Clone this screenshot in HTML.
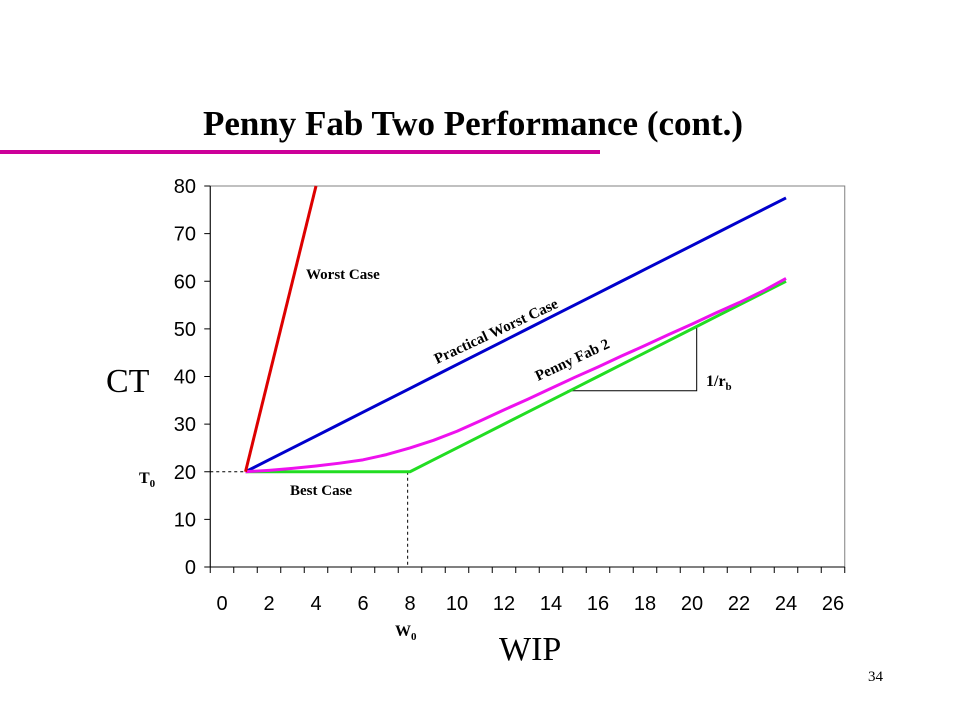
<!DOCTYPE html>
<html><head><meta charset="utf-8"><style>
body{margin:0;background:#fff;}
svg{display:block;}
</style></head><body>
<svg width="960" height="720" viewBox="0 0 960 720" xmlns="http://www.w3.org/2000/svg">
<text x="473" y="135" text-anchor="middle" font-family="Liberation Serif, serif" font-weight="bold" font-size="35">Penny Fab Two Performance (cont.)</text>
<rect x="0" y="150" width="600" height="4" fill="#cc0099"/>
<g id="chart"></g>
<text x="868" y="681" font-family="Liberation Serif, serif" font-size="15">34</text>
</svg>
<script>
const wip = [1,2,3,4,5,6,7,8,9,10,11,12,13,14,15,16,17,18,19,20,21,22,23,24];
const bestCase = [20,20,20,20,20,20,20,20,22.5,25,27.5,30,32.5,35,37.5,40,42.5,45,47.5,50,52.5,55,57.5,60];
const worstWip = [1,4];
const worstCase = [20,80];
const practicalWorst = [20,22.5,25,27.5,30,32.5,35,37.5,40,42.5,45,47.5,50,52.5,55,57.5,60,62.5,65,67.5,70,72.5,75,77.5];
const pennyFab2 = [20,20.3,20.7,21.2,21.8,22.5,23.6,25,26.6,28.5,30.7,33,35.2,37.5,39.8,42,44.3,46.5,48.8,51,53.3,55.5,57.9,60.6];
const xTicks = [0,2,4,6,8,10,12,14,16,18,20,22,24,26];
const yTicks = [0,10,20,30,40,50,60,70,80];
const T0 = 20, W0 = 8;

const NS="http://www.w3.org/2000/svg";
const g=document.getElementById('chart');
const X=v=>222+23.5*v;
const Y=v=>567-4.7625*v;
function mk(tag,attrs){const e=document.createElementNS(NS,tag);for(const k in attrs)e.setAttribute(k,attrs[k]);g.appendChild(e);return e;}

let e=mk('rect',{x:X(-0.5),y:Y(80),width:X(26.5)-X(-0.5),height:Y(0)-Y(80),fill:'none',stroke:'#808080','stroke-width':1});


e=mk('line',{x1:X(-0.5),y1:Y(80),x2:X(-0.5),y2:Y(0),stroke:'#000','stroke-width':1});


e=mk('line',{x1:X(-0.5),y1:Y(0),x2:X(26.5),y2:Y(0),stroke:'#000','stroke-width':1});


for(let i=0;i<=27;i++){
  e=mk('line',{x1:X(i-0.5),y1:Y(0),x2:X(i-0.5),y2:Y(0)+6,stroke:'#000'});
  
  
}
xTicks.forEach(t=>{
  e=mk('text',{x:X(t),y:610,'text-anchor':'middle','font-family':'Liberation Sans, sans-serif','font-size':20});
  e.textContent=t;
  
  
});
yTicks.forEach(t=>{
  e=mk('line',{x1:X(-0.5)-6,y1:Y(t),x2:X(-0.5),y2:Y(t),stroke:'#000'});
  
  
  e=mk('text',{x:196,y:Y(t)+7,'text-anchor':'end','font-family':'Liberation Sans, sans-serif','font-size':20});
  e.textContent=t;
  
  
});
// dashed guides
e=mk('line',{x1:X(-0.5),y1:Y(T0),x2:X(1),y2:Y(T0),stroke:'#000','stroke-dasharray':'3,3'});


e=mk('line',{x1:X(W0-0.1),y1:Y(T0),x2:X(W0-0.1),y2:Y(0),stroke:'#000','stroke-dasharray':'3,3'});


// slope triangle
e=mk('polyline',{points:`${X(14.7)},${Y(37)} ${X(20.2)},${Y(37)} ${X(20.2)},${Y(50.5)}`,fill:'none',stroke:'#000','stroke-width':1});



function series(xs,ys,color,name){
  const p=mk('polyline',{points:xs.map((x,i)=>X(x)+','+Y(ys[i])).join(' '),fill:'none',stroke:color,'stroke-width':3,'stroke-linejoin':'round'});
  
  
}
series(wip,practicalWorst,'#0000cc','practical-worst-case-line');
series(wip,bestCase,'#22dd22','best-case-line');
series(wip,pennyFab2,'#ee11ee','penny-fab-2-line');
series(worstWip,worstCase,'#dd0000','worst-case-line');

function label(txt,x,y,size,name,rot,family,weight){
  const t=mk('text',{x:x,y:y,'font-family':family||'Liberation Serif, serif','font-weight':weight||'bold','font-size':size});
  if(rot)t.setAttribute('transform',`rotate(${rot} ${x} ${y})`);
  t.innerHTML=txt;
  
  
}
label('Worst Case',306,279,15,'worst-case-label');
label('Best Case',290,495,15,'best-case-label');
label('Practical Worst Case',437,364,15,'practical-worst-case-label',-25);
label('Penny Fab 2',538,381,15,'penny-fab-2-label',-25);
label('1/r<tspan font-size="11" dy="4">b</tspan>',706,386,16,'slope-label');
label('T<tspan font-size="11" dy="4">0</tspan>',139,483,16,'t0-label');
label('W<tspan font-size="11" dy="4">0</tspan>',395,636,16,'w0-label');
label('CT',106,392,34,'y-axis-title',0,'Liberation Serif, serif','normal');
label('WIP',499,660,34,'x-axis-title',0,'Liberation Serif, serif','normal');
</script>
</body></html>
